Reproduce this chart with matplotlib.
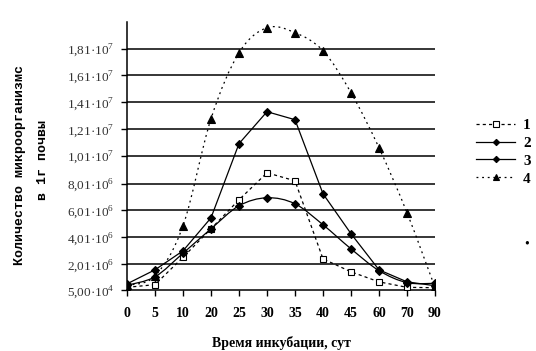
import matplotlib
matplotlib.use('Agg')
import matplotlib.pyplot as plt
from matplotlib.path import Path
import matplotlib.patches as patches

plt.rcParams['font.family'] = 'Liberation Serif'

days = ['0', '5', '10', '20', '25', '30', '35', '40', '45', '60', '70', '90']
s1 = [0.25e6, 0.45e6, 2.5e6, 4.63e6, 6.8e6, 8.82e6, 8.22e6, 2.38e6, 1.41e6, 0.66e6, 0.25e6, 0.22e6]
s2 = [0.51e6, 1.56e6, 2.98e6, 5.45e6, 11.0e6, 13.39e6, 12.79e6, 7.25e6, 4.26e6, 1.56e6, 0.66e6, 0.37e6]
s3 = [0.40e6, 1.04e6, 2.8e6, 4.63e6, 6.35e6, 6.95e6, 6.5e6, 4.93e6, 3.13e6, 1.5e6, 0.6e6, 0.55e6]
s4 = [0.40e6, 1.1e6, 4.85e6, 12.86e6, 17.8e6, 19.67e6, 19.3e6, 17.95e6, 14.81e6, 10.69e6, 5.83e6, 0.24e6]
names = ['1', '2', '3', '4']
yticks = [5.0e4, 2.01e6, 4.01e6, 6.01e6, 8.01e6, 1.01e7, 1.21e7, 1.41e7, 1.61e7, 1.81e7]
ytick_labels = ['5,00·10$^{\\mathregular{4}}$', '2,01·10$^{\\mathregular{6}}$',
                '4,01·10$^{\\mathregular{6}}$', '6,01·10$^{\\mathregular{6}}$',
                '8,01·10$^{\\mathregular{6}}$', '1,01·10$^{\\mathregular{7}}$',
                '1,21·10$^{\\mathregular{7}}$', '1,41·10$^{\\mathregular{7}}$',
                '1,61·10$^{\\mathregular{7}}$', '1,81·10$^{\\mathregular{7}}$']


def smooth_path(xs, ys):
    # Catmull-Rom style bezier through the points (like Excel smoothed lines)
    pts = list(zip(xs, ys))
    verts = [pts[0]]
    codes = [Path.MOVETO]
    for i in range(len(pts) - 1):
        p0 = pts[i - 1] if i > 0 else pts[i]
        p1 = pts[i]
        p2 = pts[i + 1]
        p3 = pts[i + 2] if i + 2 < len(pts) else pts[i + 1]
        c1 = (p1[0] + (p2[0] - p0[0]) / 6.0, p1[1] + (p2[1] - p0[1]) / 6.0)
        c2 = (p2[0] - (p3[0] - p1[0]) / 6.0, p2[1] - (p3[1] - p1[1]) / 6.0)
        verts += [c1, c2, p2]
        codes += [Path.CURVE4, Path.CURVE4, Path.CURVE4]
    return Path(verts, codes)


fig = plt.figure(figsize=(5.36, 3.51), dpi=100, facecolor='white')
ax = fig.add_axes([127 / 536, 61 / 351, 308 / 536, 268 / 351])
x = list(range(len(days)))

styles = [
    dict(data=s1, ls=(0, (2.5, 2.5)), marker='s', ms=5, mfc='white', smooth=False),
    dict(data=s2, ls='-', marker='D', ms=4, mfc='black', smooth=False),
    dict(data=s3, ls='-', marker='D', ms=4, mfc='black', smooth=True),
    dict(data=s4, ls=(0, (1.5, 3)), marker='^', ms=6, mfc='black', smooth=True),
]

for st, name in zip(styles, names):
    if st['smooth']:
        patch = patches.PathPatch(smooth_path(x, st['data']), facecolor='none', edgecolor='black',
                                  lw=0.9, linestyle=st['ls'], zorder=3)
        ax.add_patch(patch)
        ax.plot(x, st['data'], ls='none', marker=st['marker'], ms=st['ms'], mfc=st['mfc'],
                mec='black', mew=0.8, zorder=4)
    else:
        ax.plot(x, st['data'], color='black', lw=0.9, ls=st['ls'], marker=st['marker'],
                ms=st['ms'], mfc=st['mfc'], mec='black', mew=0.8, zorder=4)
    ax.plot([], [], color='black', lw=0.9, ls=st['ls'], marker=st['marker'],
            ms=st['ms'] * 0.8, mfc=st['mfc'], mec='black', mew=0.8, label=name)

ax.set_xlim(0, len(days) - 1)
ax.set_ylim(5.0e4, 2.01e7)
ax.set_xticks(x)
ax.set_xticklabels(days, fontweight='bold', fontsize=10)
ax.set_yticks(yticks)
ax.set_yticklabels(ytick_labels, fontsize=9.5, color='#333333')
for g in yticks[1:]:
    ax.axhline(g, color='black', lw=1.1, zorder=1)

for side in ['top', 'right']:
    ax.spines[side].set_visible(False)
ax.spines['left'].set_linewidth(1.1)
ax.spines['bottom'].set_linewidth(1.1)
ax.tick_params(axis='x', length=4, width=1, pad=8)
ax.tick_params(axis='y', length=4, width=1, pad=5)

ax.set_xlabel('Время инкубации, сут', fontweight='bold', fontsize=10, labelpad=12)
fig.text(20 / 536, 1 - 165 / 351, 'Количество микроорганизмс', rotation=90, ha='center', va='center',
         family='Liberation Mono', fontweight='bold', fontsize=9.5)
fig.text(43 / 536, 1 - 160 / 351, 'в 1г почвы', rotation=90, ha='center', va='center',
         family='Liberation Mono', fontweight='bold', fontsize=9.5)

leg = fig.legend(loc='center left', bbox_to_anchor=(462 / 536, 1 - 152 / 351), frameon=False,
                 prop=dict(family='Liberation Serif', weight='bold', size=11),
                 handlelength=2.6, handletextpad=0.5, labelspacing=0.28)

fig.text(527 / 536, 1 - 244 / 351, '•', ha='center', va='center', fontsize=10)

fig.savefig('out.png', dpi=100, facecolor='white')
